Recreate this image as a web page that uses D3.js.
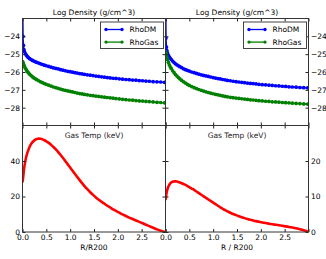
<!DOCTYPE html>
<html><head><meta charset="utf-8">
<script src="https://cdn.jsdelivr.net/npm/d3@7/dist/d3.min.js"></script>
<style>body{margin:0;background:#fff}text{font-family:"DejaVu Sans",sans-serif}</style>
</head><body>
<svg id="c" width="326" height="259"></svg>
<script>
const rValues=[0.002,0.01,0.02,0.03,0.04,0.06,0.08,0.1,0.12,0.15,0.18,0.21,0.24,0.27,0.3,0.34,0.38,0.42,0.46,0.5,0.55,0.6,0.65,0.7,0.75,0.8,0.85,0.9,0.95,1.0,1.05,1.1,1.15,1.2,1.25,1.3,1.36,1.42,1.48,1.54,1.6,1.66,1.72,1.78,1.84,1.9,1.96,2.03,2.1,2.17,2.24,2.31,2.38,2.45,2.52,2.59,2.66,2.74,2.82,2.9,2.98];
const dmLeft=[-22.0,-24.0,-24.5,-24.75,-24.85,-24.97,-25.05,-25.12,-25.18,-25.25,-25.3,-25.35,-25.39,-25.43,-25.46,-25.5,-25.54,-25.58,-25.62,-25.65,-25.69,-25.73,-25.77,-25.8,-25.83,-25.87,-25.9,-25.93,-25.96,-25.98,-26.01,-26.04,-26.06,-26.09,-26.11,-26.13,-26.16,-26.18,-26.2,-26.23,-26.25,-26.27,-26.29,-26.31,-26.33,-26.35,-26.36,-26.38,-26.4,-26.42,-26.43,-26.45,-26.46,-26.48,-26.49,-26.51,-26.52,-26.54,-26.55,-26.56,-26.58];
const gasLeft=[-25.42,-25.47,-25.55,-25.62,-25.68,-25.79,-25.88,-25.96,-26.03,-26.12,-26.2,-26.27,-26.33,-26.38,-26.43,-26.49,-26.55,-26.6,-26.65,-26.69,-26.74,-26.79,-26.84,-26.88,-26.92,-26.96,-27.0,-27.03,-27.06,-27.09,-27.12,-27.15,-27.18,-27.21,-27.23,-27.26,-27.28,-27.31,-27.33,-27.35,-27.37,-27.39,-27.41,-27.43,-27.45,-27.47,-27.49,-27.51,-27.53,-27.55,-27.57,-27.58,-27.6,-27.62,-27.63,-27.65,-27.66,-27.68,-27.7,-27.71,-27.73];
const dmRight=[-22.0,-24.1,-24.6,-24.8,-24.92,-25.05,-25.15,-25.23,-25.3,-25.39,-25.47,-25.54,-25.6,-25.65,-25.7,-25.76,-25.82,-25.87,-25.91,-25.95,-26.0,-26.04,-26.08,-26.12,-26.16,-26.19,-26.22,-26.25,-26.28,-26.31,-26.34,-26.37,-26.39,-26.42,-26.44,-26.47,-26.49,-26.52,-26.54,-26.56,-26.58,-26.6,-26.62,-26.64,-26.65,-26.67,-26.69,-26.71,-26.72,-26.74,-26.75,-26.77,-26.78,-26.8,-26.81,-26.83,-26.84,-26.85,-26.87,-26.88,-26.89];
const gasRight=[-24.85,-24.95,-25.08,-25.2,-25.3,-25.46,-25.6,-25.71,-25.8,-25.93,-26.04,-26.14,-26.23,-26.31,-26.38,-26.47,-26.55,-26.62,-26.69,-26.75,-26.82,-26.88,-26.93,-26.98,-27.03,-27.07,-27.11,-27.15,-27.19,-27.22,-27.25,-27.28,-27.31,-27.34,-27.37,-27.39,-27.42,-27.44,-27.46,-27.48,-27.5,-27.52,-27.54,-27.56,-27.57,-27.59,-27.61,-27.62,-27.64,-27.65,-27.67,-27.68,-27.69,-27.71,-27.72,-27.73,-27.75,-27.76,-27.77,-27.79,-27.8];
const tempR=[0.0,0.01,0.02,0.03,0.04,0.06,0.08,0.1,0.12,0.15,0.18,0.21,0.24,0.27,0.3,0.34,0.38,0.42,0.46,0.5,0.55,0.6,0.65,0.7,0.75,0.8,0.85,0.9,0.95,1.0,1.05,1.1,1.15,1.2,1.25,1.3,1.36,1.42,1.48,1.54,1.6,1.66,1.72,1.78,1.84,1.9,1.96,2.03,2.1,2.17,2.24,2.31,2.38,2.45,2.52,2.59,2.66,2.74,2.82,2.9,2.98,3.0];
const tempLeft=[28,30,32.5,35,37,40,42.5,44.5,46,48,49.5,50.6,51.4,52,52.4,52.6,52.5,52.2,51.7,51.1,50.2,49.1,47.9,46.5,45.0,43.4,41.7,39.9,38.1,36.3,34.5,32.7,30.9,29.2,27.5,25.9,24.1,22.4,20.9,19.5,18.2,17.0,15.9,14.8,13.8,12.8,11.9,10.9,9.9,9.0,8.1,7.3,6.5,5.7,4.9,4.1,3.3,2.4,1.5,0.7,0.1,0];
const tempRight=[9.0,9.8,10.8,11.5,12.0,12.8,13.3,13.7,13.95,14.15,14.25,14.25,14.2,14.1,13.95,13.75,13.5,13.25,12.95,12.65,12.25,11.85,11.4,10.95,10.5,10.05,9.6,9.15,8.72,8.3,7.85,7.4,6.96,6.55,6.15,5.8,5.42,5.07,4.75,4.45,4.17,3.91,3.67,3.45,3.25,3.06,2.89,2.7,2.52,2.35,2.19,2.04,1.89,1.74,1.59,1.43,1.25,1.03,0.78,0.48,0.12,0];
const xTicks=[0,0.5,1,1.5,2,2.5,3];
const xTickLabels=["0.0","0.5","1.0","1.5","2.0","2.5"];
const densityTicks=[-28,-27,-26,-25,-24];
const tempTicksLeft=[0,20,40];
const tempTicksRight=[0,10,20];
const legendNames=["RhoDM","RhoGas"];

const svg=d3.select("#c");
const FS=7.5;
const XL=22.5,XM=165.5,XR=308.5,YT=18.5,YM=125.5,YB=232;
const panels=[
 {id:0,x:[XL,XM],y:[YT,YM],dom:[-29,-23],ticks:densityTicks,side:"left",kind:"dens",dm:dmLeft,gas:gasLeft,xlab:null},
 {id:1,x:[XM,XR],y:[YT,YM],dom:[-29,-23],ticks:densityTicks,side:"right",kind:"dens",dm:dmRight,gas:gasRight,xlab:null},
 {id:2,x:[XL,XM],y:[YM,YB],dom:[0,60],ticks:tempTicksLeft,side:"left",kind:"temp",t:tempLeft,xlab:"R/R200"},
 {id:3,x:[XM,XR],y:[YM,YB],dom:[0,30],ticks:tempTicksRight,side:"right",kind:"temp",t:tempRight,xlab:"R / R200"}
];
const fmtY=d=>d3.format("d")(d);
panels.forEach(p=>{
  const xs=d3.scaleLinear().domain([0,3]).range(p.x);
  const ys=d3.scaleLinear().domain(p.dom).range([p.y[1],p.y[0]]);
  const g=svg.append("g");
  const cid="clip"+p.id;
  svg.append("clipPath").attr("id",cid).append("rect")
    .attr("x",p.x[0]).attr("y",p.y[0]).attr("width",p.x[1]-p.x[0]).attr("height",p.y[1]-p.y[0]);
  const plot=g.append("g").attr("clip-path","url(#"+cid+")");
  if(p.kind==="dens"){
    [[p.dm,"#0000ff"],[p.gas,"#008000"]].forEach(([vals,col])=>{
      const pts=rValues.map((r,i)=>[r,vals[i]]);
      plot.append("path").datum(pts).attr("fill","none").attr("stroke",col).attr("stroke-width",1.6)
        .attr("d",d3.line().curve(d3.curveMonotoneX).x(d=>xs(d[0])).y(d=>ys(d[1])));
      plot.selectAll(null).data(pts).enter().append("circle")
        .attr("cx",d=>xs(d[0])).attr("cy",d=>ys(d[1])).attr("r",1.85).attr("fill",col);
    });
  } else {
    const pts=tempR.map((r,i)=>[r,p.t[i]]);
    plot.append("path").datum(pts).attr("fill","none").attr("stroke","#ff0000").attr("stroke-width",2.6)
      .attr("stroke-linejoin","round").attr("d",d3.line().curve(d3.curveMonotoneX).x(d=>xs(d[0])).y(d=>ys(d[1])));
  }
  const bottom=d3.axisBottom(xs).tickValues(xTicks).tickSizeInner(-3).tickSizeOuter(0).tickPadding(2.5)
    .tickFormat((d,i)=>p.xlab && i<xTickLabels.length ? xTickLabels[i] : "");
  const top=d3.axisTop(xs).tickValues(xTicks).tickSizeInner(-3).tickSizeOuter(0).tickFormat("");
  const yL=d3.axisLeft(ys).tickValues(p.ticks).tickSizeInner(-3).tickSizeOuter(0).tickPadding(2.5)
    .tickFormat(p.side==="left"?fmtY:"");
  const yR=d3.axisRight(ys).tickValues(p.ticks).tickSizeInner(-3).tickSizeOuter(0).tickPadding(2.5)
    .tickFormat(p.side==="right"?fmtY:"");
  const ax=[
    g.append("g").attr("transform","translate(0,"+p.y[1]+")").call(bottom),
    g.append("g").attr("transform","translate(0,"+p.y[0]+")").call(top),
    g.append("g").attr("transform","translate("+p.x[0]+",0)").call(yL),
    g.append("g").attr("transform","translate("+p.x[1]+",0)").call(yR)
  ];
  ax.forEach(a=>{a.select(".domain").remove();a.selectAll("line").attr("stroke","#222");
    a.selectAll("text").attr("font-size",FS).attr("font-family","DejaVu Sans").attr("fill","#000");});
  g.append("rect").attr("x",p.x[0]).attr("y",p.y[0]).attr("width",p.x[1]-p.x[0]).attr("height",p.y[1]-p.y[0])
    .attr("fill","none").attr("stroke","#333").attr("stroke-width",1);
  const cx=(p.x[0]+p.x[1])/2;
  if(p.kind==="dens"){
    g.append("text").attr("x",cx).attr("y",15.3).attr("text-anchor","middle").attr("font-size",FS).text("Log Density (g/cm^3)");
    const lx=p.x[1]-65, ly=22;
    const lg=g.append("g");
    lg.append("rect").attr("x",lx).attr("y",ly).attr("width",63).attr("height",26.5)
      .attr("fill","#fff").attr("stroke","#444").attr("stroke-width",1);
    [["#0000ff",0],["#008000",1]].forEach(([col,i])=>{
      const yy=ly+7.5+i*12.6;
      lg.append("line").attr("x1",lx+5.5).attr("x2",lx+21.5).attr("y1",yy).attr("y2",yy).attr("stroke",col).attr("stroke-width",1.3);
      [lx+5.5,lx+21.5].forEach(xx=>lg.append("circle").attr("cx",xx).attr("cy",yy).attr("r",1.7).attr("fill",col));
      lg.append("text").attr("x",lx+29).attr("y",yy+2.7).attr("font-size",FS).text(legendNames[i]);
    });
  } else {
    g.append("text").attr("x",cx).attr("y",138.4).attr("text-anchor","middle").attr("font-size",FS).attr("fill","#222").text("Gas Temp (keV)");
    g.append("text").attr("x",cx).attr("y",250).attr("text-anchor","middle").attr("font-size",FS).text(p.xlab);
  }
});
</script>
</body></html>
